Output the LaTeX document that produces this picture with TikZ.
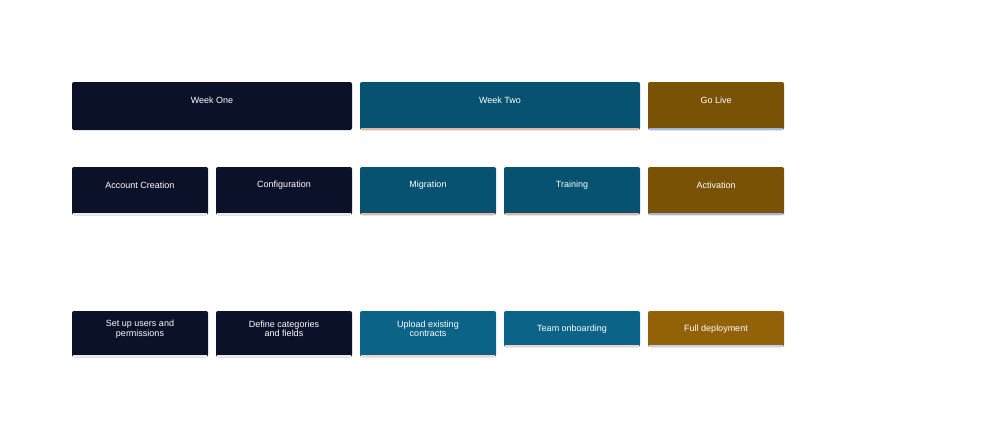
\documentclass[tikz,border=0pt]{standalone}
\usepackage{fontspec}
\setmainfont{Liberation Sans}
\definecolor{navy}{HTML}{0A1128}
\definecolor{teal}{HTML}{065270}
\definecolor{tealb}{HTML}{0B6488}
\definecolor{brown}{HTML}{7A5206}
\definecolor{brownb}{HTML}{936208}
\definecolor{peach}{HTML}{E3B89C}
\definecolor{sky}{HTML}{9DB8E0}
\tikzset{lbl/.style={text=white, font=\fontsize{9}{9.5}\selectfont, align=center, inner sep=0pt}}
% \card{x0}{y0}{w}{h}{fill}{strip}{name}{text}
\newcommand{\card}[8]{
  \fill[#5, rounded corners=2pt] (#1,#2) rectangle ++(#3,#4);
  \draw[#6, line width=1.5pt] (#1+1,#2+#4-0.8) -- ++(#3-2,0);
  \node[lbl] (#7) at (#1+#3/2,#2+18) {#8};
}
\begin{document}
\begin{tikzpicture}[x=1pt, y=-1pt]
\useasboundingbox (0,0) rectangle (1000,444);
% phases
\card{72}{82}{280}{48}{navy}{navy}{weekone}{Week One}
\card{360}{82}{280}{48}{teal}{peach}{weektwo}{Week Two}
\card{648}{82}{136}{48}{brown}{sky}{golive}{Go Live}
% steps
\card{72}{167}{136}{48}{navy}{white!92!black}{account}{Account Creation}
\card{216}{167}{136}{48}{navy}{white!92!black}{config}{Configuration}
\card{360}{167}{136}{48}{teal}{peach}{migration}{Migration}
\card{504}{167}{136}{48}{teal}{peach}{training}{Training}
\card{648}{167}{136}{48}{brown}{sky}{activation}{Activation}
% tasks
\card{72}{311}{136}{46}{navy}{white!92!black}{setup}{Set up users and\\permissions}
\card{216}{311}{136}{46}{navy}{white!92!black}{define}{Define categories\\and fields}
\card{360}{311}{136}{46}{tealb}{peach!60!white}{upload}{Upload existing\\contracts}
\card{504}{311}{136}{36}{tealb}{peach!60!white}{onboard}{Team onboarding}
\card{648}{311}{136}{36}{brownb}{sky!60!white}{deploy}{Full deployment}
\end{tikzpicture}
\end{document}
